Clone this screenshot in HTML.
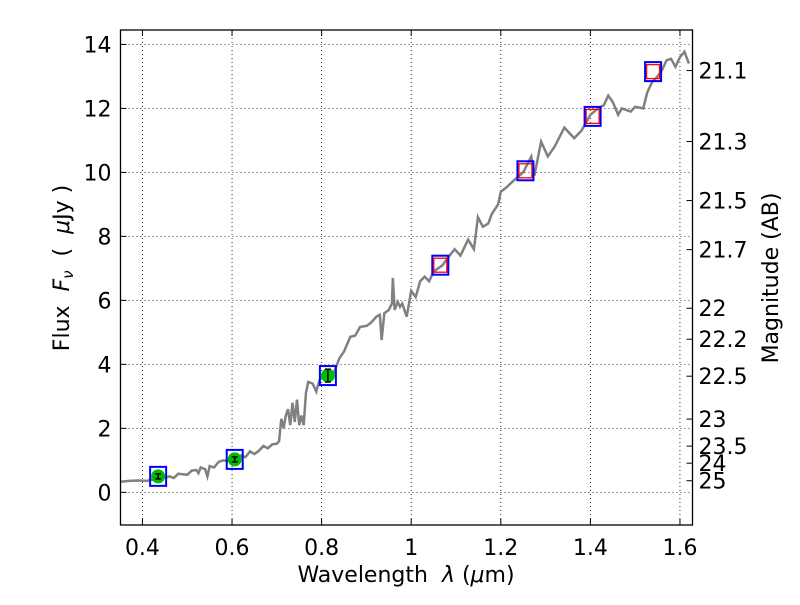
<!DOCTYPE html>
<html><head><meta charset="utf-8"><style>
body{margin:0;background:#fff}
svg text{font-family:"DejaVu Sans","Liberation Sans",sans-serif;fill:#000}
</style></head><body>
<svg id="c" width="800" height="600" xmlns="http://www.w3.org/2000/svg"></svg>
<script>
const specWave=[0.35,0.37,0.39,0.41,0.42,0.44,0.46,0.47,0.48,0.50,0.51,0.52,0.525,0.53,0.54,0.545,0.55,0.56,0.57,0.58,0.60,0.61,0.62,0.63,0.64,0.65,0.66,0.67,0.68,0.69,0.70,0.705,0.71,0.715,0.72,0.725,0.73,0.735,0.74,0.745,0.75,0.755,0.76,0.765,0.77,0.78,0.788,0.795,0.80,0.81,0.827,0.84,0.85,0.864,0.875,0.886,0.90,0.91,0.923,0.93,0.934,0.94,0.95,0.957,0.959,0.963,0.97,0.975,0.98,0.99,1.0,1.01,1.02,1.03,1.04,1.05,1.06,1.07,1.08,1.097,1.11,1.127,1.14,1.149,1.16,1.172,1.18,1.194,1.20,1.21,1.23,1.25,1.268,1.275,1.29,1.305,1.32,1.342,1.355,1.364,1.38,1.40,1.417,1.43,1.44,1.45,1.462,1.47,1.49,1.50,1.518,1.527,1.537,1.55,1.56,1.57,1.58,1.59,1.60,1.61,1.62];
const specFlux=[0.33,0.36,0.37,0.36,0.39,0.42,0.5,0.45,0.58,0.55,0.68,0.7,0.6,0.78,0.72,0.5,0.82,0.78,0.95,1.0,0.97,1.05,1.15,1.1,1.28,1.2,1.3,1.45,1.38,1.5,1.52,1.6,2.3,2.0,2.4,2.6,2.1,2.8,2.2,2.9,2.1,2.4,2.1,3.1,3.45,3.4,3.15,3.5,3.6,3.65,3.73,4.2,4.4,4.86,4.9,5.17,5.2,5.3,5.5,5.55,4.76,5.6,5.7,5.9,6.7,5.7,5.95,5.8,5.9,5.49,6.3,6.1,6.6,6.74,6.6,6.9,7.0,7.1,7.3,7.6,7.4,7.9,7.6,8.6,8.3,8.4,8.7,9.0,9.4,9.5,9.76,10.0,10.49,9.9,10.96,10.5,10.8,11.4,11.2,11.07,11.3,11.8,12.0,12.1,12.4,12.2,11.8,12.0,11.9,12.05,12.0,12.5,12.8,13.0,13.2,13.5,13.55,13.3,13.6,13.77,13.4];
const photWave=[0.435,0.606,0.814,1.065,1.255,1.405,1.54];
const photFlux=[0.5,1.03,3.65,7.1,10.05,11.75,13.15];
const greenWave=[0.435,0.606,0.814];
const greenFlux=[0.5,1.03,3.65];
const greenErr=[0.08,0.08,0.2];
const redWave=[1.065,1.255,1.405,1.54];
const redFlux=[7.1,10.05,11.75,13.15];
const xTicks=[0.4,0.6,0.8,1.0,1.2,1.4,1.6];
const xTickLabels=["0.4","0.6","0.8","1","1.2","1.4","1.6"];
const yTicks=[0,2,4,6,8,10,12,14];
const magTicks=[21.1,21.3,21.5,21.7,22,22.2,22.5,23,23.5,24,25];
const magLabels=["21.1","21.3","21.5","21.7","22","22.2","22.5","23","23.5","24","25"];

const L=120.5,R=692.5,T=30,B=525,XMIN=0.351,XMAX=1.628,YMIN=-1.02,YMAX=14.45;
const sx=v=>L+(v-XMIN)/(XMAX-XMIN)*(R-L);
const sy=v=>B-(v-YMIN)/(YMAX-YMIN)*(B-T);
const svg=document.getElementById('c');
const NS='http://www.w3.org/2000/svg';
function mk(tag,attrs,parent){const e=document.createElementNS(NS,tag);for(const k in attrs)e.setAttribute(k,attrs[k]);(parent||svg).appendChild(e);return e;}
const FS=22;
const grid=mk('g',{});


xTicks.forEach((t,i)=>{
  mk('line',{x1:sx(t),x2:sx(t),y1:T,y2:B,stroke:'#000','stroke-width':0.8,'stroke-dasharray':'1,3'},grid);
  mk('line',{x1:sx(t),x2:sx(t),y1:B,y2:B-6,stroke:'#000'},grid);
  mk('line',{x1:sx(t),x2:sx(t),y1:T,y2:T+6,stroke:'#000'},grid);
  const tx=mk('text',{x:sx(t),y:B+30,'text-anchor':'middle','font-size':FS});
  tx.textContent=xTickLabels[i];
  
  
});
yTicks.forEach(t=>{
  mk('line',{x1:L,x2:R,y1:sy(t),y2:sy(t),stroke:'#000','stroke-width':0.8,'stroke-dasharray':'1,3'},grid);
  mk('line',{x1:L,x2:L+6,y1:sy(t),y2:sy(t),stroke:'#000'},grid);
  const tx=mk('text',{x:L-9,y:sy(t)+8,'text-anchor':'end','font-size':FS});
  tx.textContent=String(t);
  
  
});
magTicks.forEach((m,i)=>{
  const f=Math.pow(10,(23.9-m)/2.5);
  mk('line',{x1:R,x2:R-6,y1:sy(f),y2:sy(f),stroke:'#000'});
  const tx=mk('text',{x:R+6,y:sy(f)+8,'font-size':FS});
  tx.textContent=magLabels[i];
  
  
});

const cp=mk('clipPath',{id:'clip'});mk('rect',{x:L,y:T,width:R-L,height:B-T},cp);
const spec=mk('polyline',{points:specWave.map((w,i)=>sx(w)+','+sy(specFlux[i])).join(' '),fill:'none',stroke:'#808080','stroke-width':2.5,'clip-path':'url(#clip)'});



photWave.forEach((w,i)=>{
  const r=mk('rect',{x:sx(w)-8,y:sy(photFlux[i])-9.5,width:16,height:19,fill:'none',stroke:'#0000ff','stroke-width':2});
  
  
});
greenWave.forEach((w,i)=>{
  const c=mk('circle',{cx:sx(w),cy:sy(greenFlux[i]),r:7,fill:'#00bb00'});
  
  
  const y1=sy(greenFlux[i]-greenErr[i]),y2=sy(greenFlux[i]+greenErr[i]),x=sx(w);
  mk('line',{x1:x,x2:x,y1:y1,y2:y2,stroke:'#000','stroke-width':1.5});
  mk('line',{x1:x-3,x2:x+3,y1:y1,y2:y1,stroke:'#000','stroke-width':1.5});
  mk('line',{x1:x-3,x2:x+3,y1:y2,y2:y2,stroke:'#000','stroke-width':1.5});
});
redWave.forEach((w,i)=>{
  const r=mk('rect',{x:sx(w)-6.5,y:sy(redFlux[i])-7,width:13,height:14,fill:'none',stroke:'#ff0000','stroke-width':1.3});
  
  
});

const frame=mk('rect',{x:L,y:T,width:R-L,height:B-T,fill:'none',stroke:'#000','stroke-width':1.3});



const xl=mk('text',{x:406,y:582,'text-anchor':'middle','font-size':FS});
xl.innerHTML='Wavelength\u00a0\u00a0<tspan font-style="italic">λ</tspan> (<tspan font-style="italic">μ</tspan>m)';


const yl=mk('text',{x:0,y:0,'text-anchor':'middle','font-size':FS,transform:'translate(69,268) rotate(-90)'});
yl.innerHTML='Flux\u00a0\u00a0<tspan font-style="italic">F</tspan><tspan font-style="italic" font-size="15" dy="4">ν</tspan><tspan dy="-4">\u00a0\u00a0(\u00a0\u00a0</tspan><tspan font-style="italic">μ</tspan>Jy )';


const rl=mk('text',{x:0,y:0,'text-anchor':'middle','font-size':FS,transform:'translate(778,278) rotate(-90)'});
rl.textContent='Magnitude (AB)';


</script>
</body></html>
